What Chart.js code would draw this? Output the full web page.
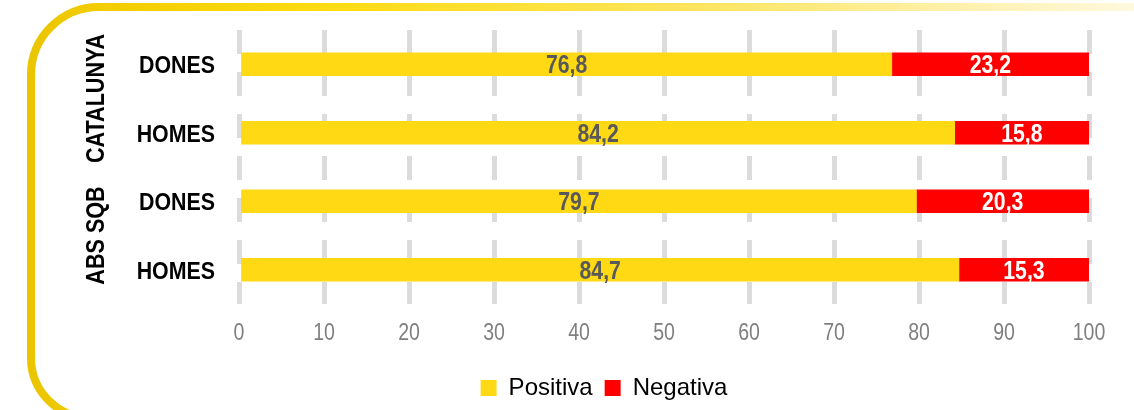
<!DOCTYPE html>
<html>
<head>
<meta charset="utf-8">
<script src="https://cdn.jsdelivr.net/npm/chart.js@4"></script>
<style>
  html, body { margin: 0; padding: 0; background: #fff; }
  #chart { display: block; }
</style>
</head>
<body>
<canvas id="chart" width="1134" height="410"></canvas>
<script>
// DATA -----------------------------------------------------------------------

const categories = ['DONES', 'HOMES', 'DONES', 'HOMES'];
const groupNames = ['CATALUNYA', 'ABS SQB'];
const groupSpans = [[0, 1], [2, 3]];
const positiva = [76.8, 84.2, 79.7, 84.7];
const negativa = [23.2, 15.8, 20.3, 15.3];

// SETTINGS -------------------------------------------------------------------

const FONT = "'Liberation Sans', Arial, sans-serif";
const colors = {
    positiva: '#FFDA14',
    negativa: '#FF0000',
    grid: '#DCDCDC',
    tick: '#7F7F7F'
};

Chart.defaults.font.family = FONT;

function formatValue(v) {
    return v.toFixed(1).replace('.', ',');
}

// the original uses a narrow face, so squeeze the text horizontally
function narrowText(ctx, text, x, y, sx, angle = 0) {
    ctx.save();
    ctx.translate(x, y);
    if (angle) ctx.rotate(angle);
    ctx.scale(sx, 1);
    ctx.fillText(text, 0, 0);
    ctx.restore();
}

// PLUGINS --------------------------------------------------------------------

// yellow rounded frame on the left, fading out along the top
const framePlugin = {
    id: 'frame',
    beforeDraw(chart) {
        const ctx = chart.ctx;
        const left = 31, top = 7, bottom = 418, r = 68;
        const grad = ctx.createLinearGradient(0, 0, chart.width, 0);
        grad.addColorStop(0, '#E6C200');
        grad.addColorStop(0.08, '#F2CC00');
        grad.addColorStop(0.3, '#FFDC14');
        grad.addColorStop(0.62, '#FFE560');
        grad.addColorStop(1, '#FFF9DE');
        ctx.save();
        ctx.strokeStyle = grad;
        ctx.lineWidth = 8;
        ctx.beginPath();
        ctx.moveTo(chart.width + 5, top);
        ctx.arcTo(left, top, left, top + r, r);
        ctx.arcTo(left, bottom, left + r, bottom, 60);
        ctx.lineTo(left + 200, bottom);
        ctx.stroke();
        ctx.restore();
    }
};

// values written inside the bars
const valueLabels = {
    id: 'valueLabels',
    afterDatasetsDraw(chart) {
        const ctx = chart.ctx;
        ctx.save();
        ctx.font = `bold 25px ${FONT}`;
        ctx.textAlign = 'center';
        ctx.textBaseline = 'alphabetic';
        chart.data.datasets.forEach((ds, di) => {
            const meta = chart.getDatasetMeta(di);
            ctx.fillStyle = di === 0 ? '#595959' : '#FFFFFF';
            meta.data.forEach((bar, i) => {
                const x = (bar.x + bar.base) / 2;
                narrowText(ctx, formatValue(ds.data[i]), x, bar.y + 9, 0.85);
            });
        });
        ctx.restore();
    }
};

// axis texts: categories, group names and the x tick numbers
const axisTexts = {
    id: 'axisTexts',
    afterDraw(chart) {
        const ctx = chart.ctx;
        const xScale = chart.scales.x;
        const yScale = chart.scales.y;
        ctx.save();

        ctx.fillStyle = '#000';
        ctx.textBaseline = 'alphabetic';
        ctx.font = `bold 24px ${FONT}`;
        ctx.textAlign = 'right';
        categories.forEach((c, i) => {
            narrowText(ctx, c, 215, yScale.getPixelForTick(i) + 9, 0.89);
        });

        ctx.font = `bold 26px ${FONT}`;
        ctx.textAlign = 'center';
        groupNames.forEach((name, g) => {
            const [a, b] = groupSpans[g];
            const y = (yScale.getPixelForValue(a) + yScale.getPixelForValue(b)) / 2;
            narrowText(ctx, name, 104, y, 0.83, -Math.PI / 2);
        });

        ctx.fillStyle = colors.tick;
        ctx.font = `23px ${FONT}`;
        xScale.ticks.forEach((t, i) => {
            narrowText(ctx, String(t.value), xScale.getPixelForTick(i), 340, 0.85);
        });
        ctx.restore();
    }
};

// CHART ----------------------------------------------------------------------

new Chart(document.getElementById('chart'), {
    type: 'bar',
    data: {
        labels: categories,
        datasets: [
            {label: 'Positiva', data: positiva, backgroundColor: colors.positiva, barThickness: 23},
            {label: 'Negativa', data: negativa, backgroundColor: colors.negativa, barThickness: 23}
        ]
    },
    options: {
        indexAxis: 'y',
        responsive: false,
        devicePixelRatio: 1,
        animation: false,
        layout: {
            padding: {top: 30, right: 45, left: 119, bottom: 0}
        },
        plugins: {
            tooltip: {enabled: false},
            legend: {
                position: 'bottom',
                labels: {
                    color: '#000',
                    boxWidth: 16,
                    boxHeight: 16,
                    padding: 12,
                    font: {size: 24}
                }
            }
        },
        scales: {
            x: {
                stacked: true,
                min: 0,
                max: 100,
                ticks: {stepSize: 10, display: false},
                grid: {
                    color: colors.grid,
                    lineWidth: 5,
                    drawTicks: false
                },
                border: {display: false, dash: [24, 18]},
                afterFit(scale) {
                    scale.height = 60;
                }
            },
            y: {
                stacked: true,
                ticks: {display: false},
                grid: {display: false, drawTicks: false},
                border: {display: false},
                afterFit(scale) {
                    scale.width = 120;
                }
            }
        }
    },
    plugins: [framePlugin, valueLabels, axisTexts]
});
</script>
</body>
</html>
